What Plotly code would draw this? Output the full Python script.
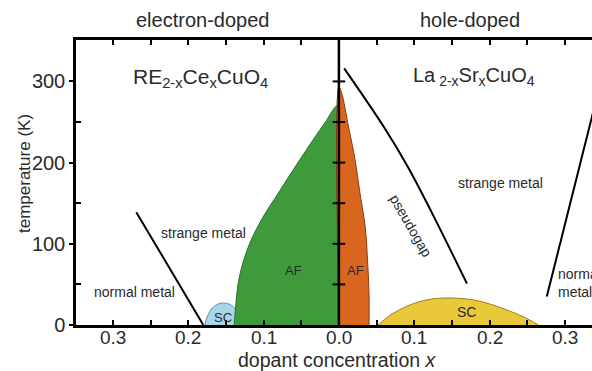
import plotly.graph_objects as go

# ---------------- data ----------------
# electron-doped side (dopant x, plotted to the left of 0)
e_af_x = [0.0, 0.0, 0.020, 0.043, 0.078, 0.105, 0.122, 0.133, 0.138, 0.139]
e_af_T = [0, 271, 247, 216, 166, 126, 92, 55, 12, 0]

e_sc_x = [0.178, 0.174, 0.168, 0.160, 0.152, 0.144, 0.137, 0.134, 0.134]
e_sc_T = [0, 12, 21, 26, 27, 25, 19, 10, 0]

e_line_x = [0.269, 0.180]
e_line_T = [139, 0]

# hole-doped side
h_af_x = [0.0, 0.0, 0.0036, 0.0126, 0.0216, 0.028, 0.035, 0.038, 0.040, 0.040]
h_af_T = [0, 293, 286, 245, 203, 162, 121, 80, 39, 0]

h_sc_x = [0.052, 0.068, 0.090, 0.112, 0.134, 0.156, 0.178, 0.200, 0.223, 0.245, 0.265]
h_sc_T = [0, 12, 23, 30, 33, 33, 31, 26, 18.5, 10, 0]

pg_x = [0.007, 0.061, 0.092, 0.123, 0.170]
pg_T = [316, 242, 194, 139, 51]

h_line_x = [0.276, 0.345]
h_line_T = [35, 290]

center_ticks_T = [50, 100, 150, 200, 250, 300]

x_tick_vals = [-0.3, -0.25, -0.2, -0.15, -0.1, -0.05, 0.0, 0.05, 0.1, 0.15, 0.2, 0.25, 0.3]
x_tick_text = ["0.3", "", "0.2", "", "0.1", "", "0.0", "", "0.1", "", "0.2", "", "0.3"]

FONT = "Liberation Sans, Arial, sans-serif"
TXT = "#2a2a2a"

W, H = 592, 371
ML, MR, MT, MB = 76, 0, 40, 46
PW, PH = W - ML - MR, H - MT - MB

fig = go.Figure()

# electron SC (blue) under AF
fig.add_trace(go.Scatter(x=[-v for v in e_sc_x], y=e_sc_T, fill="toself",
                         fillcolor="#a7d6ea", line=dict(color="#5b8fae", width=1, shape="spline"),
                         mode="lines", hoverinfo="skip"))
# electron AF (green)
fig.add_trace(go.Scatter(x=[-v for v in e_af_x], y=e_af_T, fill="toself",
                         fillcolor="#3f9a3c", line=dict(color="#2f6f2c", width=1, shape="spline"),
                         mode="lines", hoverinfo="skip"))
# hole AF (orange)
fig.add_trace(go.Scatter(x=h_af_x, y=h_af_T, fill="toself",
                         fillcolor="#d9661f", line=dict(color="#8a3d10", width=1, shape="spline"),
                         mode="lines", hoverinfo="skip"))
# hole SC (yellow)
fig.add_trace(go.Scatter(x=h_sc_x, y=h_sc_T, fill="toself",
                         fillcolor="#e9c93a", line=dict(color="#9a7f1c", width=1, shape="spline"),
                         mode="lines", hoverinfo="skip"))
# lines
fig.add_trace(go.Scatter(x=[-v for v in e_line_x], y=e_line_T, mode="lines",
                         line=dict(color="black", width=2), hoverinfo="skip"))
fig.add_trace(go.Scatter(x=pg_x, y=pg_T, mode="lines",
                         line=dict(color="black", width=2, shape="spline"), hoverinfo="skip"))
fig.add_trace(go.Scatter(x=h_line_x, y=h_line_T, mode="lines",
                         line=dict(color="black", width=2), hoverinfo="skip"))
# central axis line with ticks
fig.add_shape(type="line", xref="x", yref="paper", x0=0, x1=0, y0=0, y1=1,
              line=dict(color="black", width=2.5))
fig.add_trace(go.Scatter(x=[0] * len(center_ticks_T), y=center_ticks_T, mode="markers",
                         marker=dict(symbol="line-ew", size=9, line=dict(color="black", width=2)),
                         hoverinfo="skip"))

def px(xp):
    return (xp - ML) / PW

def py(yp):
    return (H - MB - yp) / PH

def ann(xp, yp, text, size, **kw):
    d = dict(x=px(xp), y=py(yp), xref="paper", yref="paper", text=text, showarrow=False,
             xanchor="center", yanchor="middle",
             font=dict(family=FONT, size=size, color=TXT))
    d.update(kw)
    fig.add_annotation(**d)

fig.update_layout(
    width=W, height=H,
    margin=dict(l=ML, r=MR, t=MT, b=MB),
    paper_bgcolor="white", plot_bgcolor="white",
    showlegend=False,
    font=dict(family=FONT, size=18, color=TXT),
    xaxis=dict(range=[-0.349, 0.336], tickmode="array", tickvals=x_tick_vals,
               ticks="inside", ticklen=5, tickwidth=2, showticklabels=False,
               tickcolor="black", showline=True, linecolor="black", linewidth=2.5,
               mirror="ticks", showgrid=False, zeroline=False),
    yaxis=dict(range=[0, 351], tickmode="array", tickvals=[0, 100, 200, 300],
               ticks="outside", ticklen=4, tickwidth=2, tickcolor="black",
               minor=dict(tickvals=[50, 150, 250], ticks="inside", ticklen=5,
                          tickwidth=2, tickcolor="black"),
               showline=True, linecolor="black", linewidth=2.5, mirror=False,
               showgrid=False, zeroline=False,
               tickfont=dict(family=FONT, size=20, color=TXT)),
)

# x tick labels placed just below the axis line
for v, t in zip(x_tick_vals, x_tick_text):
    if t:
        fig.add_annotation(x=v, xref="x", y=py(337.5), yref="paper", text=t,
                           showarrow=False, xanchor="center", yanchor="middle",
                           font=dict(family=FONT, size=19, color=TXT))

# texts (positioned in pixel coordinates of the figure)
ann(202, 20, "electron-doped", 20)
ann(470, 20, "hole-doped", 20)
ann(200, 78, "RE<sub>2-x</sub>Ce<sub>x</sub>CuO<sub>4</sub>", 21)
ann(474, 77, "La<sub> 2-x</sub>Sr<sub>x</sub>CuO<sub>4</sub>", 20)
ann(203, 233, "strange metal", 14)
ann(134, 292, "normal metal", 14)
ann(293, 270, "AF", 13)
ann(355, 270, "AF", 13)
ann(223, 317, "SC", 13)
ann(466, 312, "SC", 14)
ann(411, 226, "pseudogap", 14, textangle=60)
ann(500, 183, "strange metal", 14)
ann(556, 283, "normal<br>metal", 14, xanchor="left", align="left")
ann(24, 174, "temperature (K)", 17, textangle=-90)
ann(337, 360, "dopant concentration <i>x</i>", 19.5)

fig.write_html("out.html", config={"displayModeBar": False},
               post_script="document.body.style.margin='0';document.body.style.padding='0';")
